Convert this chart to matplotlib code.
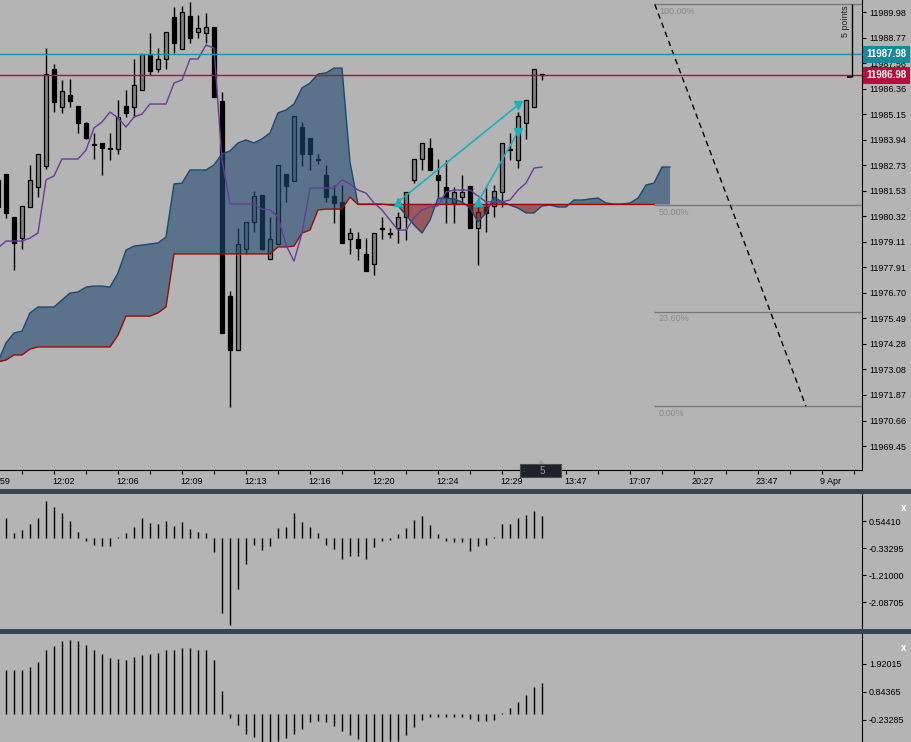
import matplotlib
matplotlib.use('Agg')
import matplotlib.pyplot as plt
from matplotlib.patches import Rectangle, Polygon
import numpy as np

plt.rcParams['font.family'] = ['Liberation Sans', 'DejaVu Sans']

BG = '#b4b4b4'
W, H = 911, 742

# --- candles (one per bar, bar index = position on the time axis) ---
opens = [11982.04, 11982.32, 11980.29, 11979.29, 11980.76, 11981.70, 11982.70, 11987.29, 11985.49, 11986.06,
         11985.54, 11984.73, 11983.74, 11983.79, 11983.55, 11983.50, 11985.54, 11985.49, 11986.29, 11987.95,
         11987.29, 11987.76, 11989.75, 11988.23, 11989.79, 11989.04, 11988.99, 11989.27, 11985.77, 11976.55,
         11973.99, 11978.77, 11980.05, 11981.33, 11978.30, 11979.01, 11982.32, 11981.99, 11984.54, 11984.02,
         11983.03, 11982.27, 11981.28, 11981.00, 11979.25, 11979.25, 11978.54, 11978.06, 11979.77, 11979.53,
         11979.77, 11980.29, 11982.04, 11983.03, 11983.55, 11982.27, 11981.70, 11980.95, 11981.23, 11981.75,
         11979.77, 11980.76, 11980.81, 11981.47, 11983.45, 11982.98, 11984.73, 11985.49, 11987.05]
highs = [11982.41, 11982.32, 11980.29, 11980.81, 11982.75, 11983.27, 11988.28, 11987.52, 11986.77, 11986.81,
         11985.54, 11984.78, 11984.26, 11983.79, 11984.26, 11985.82, 11986.29, 11987.76, 11988.00, 11988.99,
         11988.28, 11989.04, 11990.22, 11990.27, 11990.46, 11989.84, 11989.94, 11989.27, 11986.20, 11976.79,
         11979.77, 11980.05, 11981.52, 11981.33, 11980.29, 11982.75, 11982.32, 11985.06, 11984.78, 11984.02,
         11983.27, 11982.75, 11981.80, 11981.80, 11979.77, 11979.58, 11979.29, 11979.53, 11980.29, 11979.77,
         11980.52, 11981.47, 11983.03, 11983.79, 11984.02, 11983.03, 11982.98, 11981.70, 11982.27, 11981.75,
         11981.00, 11981.70, 11981.80, 11983.79, 11984.26, 11985.25, 11985.82, 11987.29, 11987.05]
lows = [11980.38, 11980.24, 11977.78, 11978.77, 11980.76, 11981.23, 11982.56, 11985.25, 11985.21, 11985.49,
        11984.26, 11983.98, 11983.03, 11982.27, 11982.98, 11983.27, 11985.02, 11985.02, 11986.29, 11987.00,
        11987.14, 11987.29, 11988.04, 11988.23, 11988.52, 11988.75, 11988.52, 11985.96, 11974.80, 11971.30,
        11973.99, 11978.54, 11979.58, 11978.72, 11978.30, 11979.01, 11981.00, 11981.99, 11982.70, 11982.51,
        11982.79, 11981.00, 11980.00, 11979.06, 11978.54, 11978.25, 11977.73, 11977.54, 11979.25, 11979.29,
        11979.06, 11979.20, 11981.89, 11982.51, 11982.51, 11981.23, 11980.00, 11980.00, 11980.95, 11979.77,
        11978.02, 11979.58, 11980.29, 11980.76, 11982.98, 11982.60, 11983.98, 11985.49, 11986.77]
closes = [11980.76, 11980.48, 11979.06, 11980.81, 11982.04, 11983.27, 11987.05, 11985.73, 11986.25, 11985.77,
          11984.73, 11984.02, 11983.69, 11983.55, 11983.50, 11985.02, 11985.21, 11986.53, 11988.00, 11987.19,
          11987.76, 11989.04, 11988.52, 11989.98, 11988.75, 11989.23, 11989.27, 11985.96, 11974.80, 11973.99,
          11979.01, 11980.05, 11981.28, 11978.77, 11979.25, 11982.75, 11981.75, 11985.06, 11983.27, 11983.27,
          11982.98, 11981.23, 11980.95, 11979.06, 11979.53, 11978.82, 11977.73, 11979.53, 11979.72, 11979.48,
          11980.29, 11981.47, 11983.03, 11983.79, 11982.51, 11982.04, 11981.23, 11981.47, 11981.47, 11979.77,
          11980.52, 11980.48, 11981.52, 11983.79, 11983.50, 11985.06, 11985.82, 11987.29, 11986.98]

# purple line (tenkan)
tenkan = [11978.82, 11979.15, 11979.15, 11979.15, 11979.29, 11979.53, 11982.04, 11982.23, 11983.03, 11983.03,
          11983.03, 11983.45, 11984.50, 11984.78, 11985.25, 11984.97, 11984.54, 11985.02, 11985.16, 11985.63,
          11985.63, 11985.63, 11986.62, 11986.77, 11987.76, 11987.76, 11988.42, 11988.28, 11982.98, 11980.90,
          11980.90, 11980.90, 11980.90, 11980.66, 11980.62, 11980.29, 11978.96, 11978.20, 11979.53, 11981.66,
          11981.66, 11981.66, 11981.66, 11982.04, 11981.85, 11981.56, 11981.42, 11980.95, 11980.62, 11980.14,
          11979.67, 11979.67, 11980.24, 11980.62, 11980.76, 11980.81, 11981.47, 11981.56, 11981.56, 11981.56,
          11981.28, 11981.00, 11981.00, 11981.00, 11981.09, 11981.56, 11981.89, 11982.60, 11982.65]

# cloud, drawn 16 bars past the last candle
span_a = [11973.43, 11974.33, 11974.80, 11974.89, 11975.75, 11976.03, 11976.03, 11976.03, 11976.36, 11976.69,
          11976.74, 11976.97, 11977.02, 11977.02, 11976.97, 11977.64, 11978.72, 11978.91, 11978.96, 11979.01,
          11979.06, 11979.34, 11981.85, 11981.89, 11982.51, 11982.51, 11982.51, 11982.75, 11983.27, 11983.41,
          11983.79, 11983.93, 11983.79, 11983.98, 11984.26, 11985.21, 11985.35, 11985.63, 11986.39, 11986.62,
          11987.05, 11987.10, 11987.33, 11987.33, 11982.89, 11980.90, 11980.90, 11980.90, 11980.90, 11980.85,
          11980.81, 11980.38, 11979.91, 11979.53, 11980.14, 11981.18, 11981.18, 11981.14, 11981.00, 11980.71,
          11980.05, 11980.48, 11981.23, 11981.00, 11980.85, 11980.71, 11980.48, 11980.48, 11980.81, 11980.85,
          11980.76, 11980.76, 11981.09, 11981.09, 11981.14, 11981.18, 11980.95, 11980.90, 11980.90, 11980.95,
          11981.18, 11981.80, 11981.89, 11982.65, 11982.65]
span_b = [11973.43, 11973.52, 11973.76, 11973.76, 11974.04] + [11974.14] * 10 + [11974.70] + [11975.60] * 4 + \
         [11975.75, 11976.03] + [11978.54] * 13 + [11978.87, 11978.87, 11978.91, 11979.53, 11979.67, 11980.62,
         11980.66, 11980.66, 11980.66, 11981.23] + [11980.88] * 40

# oscillators below (bars 1..68)
osc1 = [0.63, 0.17, 0.25, 0.44, 0.65, 1.20, 1.01, 0.81, 0.55, 0.19,
        -0.11, -0.22, -0.26, -0.26, 0.03, 0.16, 0.36, 0.63, 0.49, 0.44,
        0.55, 0.39, 0.52, 0.27, 0.19, 0.16, -0.45, -2.46, -2.84, -1.68,
        -0.86, -0.24, -0.40, -0.26, 0.32, 0.34, 0.81, 0.52, 0.36, 0.16,
        -0.24, -0.37, -0.69, -0.60, -0.60, -0.70, -0.29, -0.11, -0.08, 0.11,
        0.32, 0.57, 0.71, 0.41, 0.12, -0.11, -0.13, -0.15, -0.42, -0.26,
        -0.24, 0.02, 0.44, 0.44, 0.65, 0.74, 0.87, 0.71]
osc2 = [1.70, 1.67, 1.67, 1.79, 2.01, 2.44, 2.63, 2.82, 2.85, 2.82,
        2.65, 2.47, 2.31, 2.15, 2.12, 2.09, 2.18, 2.28, 2.31, 2.35,
        2.44, 2.47, 2.54, 2.53, 2.47, 2.44, 2.09, 0.90, -0.17, -0.42,
        -0.77, -0.90, -1.06, -1.09, -1.03, -0.94, -0.77, -0.58, -0.32, -0.26,
        -0.32, -0.45, -0.64, -0.81, -0.96, -1.12, -1.15, -1.12, -1.03, -1.03,
        -0.81, -0.51, -0.22, -0.13, -0.13, -0.13, -0.13, -0.13, -0.19, -0.26,
        -0.26, -0.23, 0.02, 0.22, 0.45, 0.71, 1.03, 1.19]

ask_price = 11987.98
bid_price = 11986.98

# arrowed lines: (start bar, start price, end bar, end price)
arrow_lines = [(50, 11981.00, 65, 11985.58), (60, 11981.00, 65, 11984.31)]

# fibonacci retracement
fib_ratios = [0.0, 0.236, 0.5, 1.0]
fib_names = ['0.00%', '23.60%', '50.00%', '100.00%']
fib_start, fib_end = 82, 101
fib_high, fib_low = 11990.34, 11971.33

# price ruler
ruler_bar, ruler_top, ruler_bottom = 106.75, 11990.36, 11986.93

price_ticks = [11989.98, 11988.77, 11987.56, 11986.36, 11985.15, 11983.94, 11982.73, 11981.53, 11980.32,
               11979.11, 11977.91, 11976.70, 11975.49, 11974.28, 11973.08, 11971.87, 11970.66, 11969.45]
time_bars = [-1, 7, 15, 23, 31, 39, 47, 55, 63, 71, 79, 87, 95, 103]
time_labels = ['11:59', '12:02', '12:06', '12:09', '12:13', '12:16', '12:20', '12:24', '12:29',
               '13:47', '17:07', '20:27', '23:47', '9 Apr']
osc1_ticks = [0.54410, -0.33295, -1.21000, -2.08705]
osc2_ticks = [1.92015, 0.84365, -0.23285]

opens, highs, lows, closes = map(np.array, (opens, highs, lows, closes))
span_a, span_b = np.array(span_a), np.array(span_b)
bars = np.arange(len(opens))
cloud_x = np.arange(len(span_a))
osc_x = np.arange(1, len(osc1) + 1)
XMIN, XMAX = 0.25, 108


def fig_box(x0, y0, x1, y1):
    """pixel box -> figure fraction rect"""
    return [x0 / W, 1 - y1 / H, (x1 - x0) / W, (y1 - y0) / H]


fig = plt.figure(figsize=(W / 100, H / 100), dpi=100, facecolor=BG)
ax = fig.add_axes(fig_box(0, 0, 862, 470))
ax1 = fig.add_axes(fig_box(0, 494, 862, 629), sharex=ax)
ax2 = fig.add_axes(fig_box(0, 634, 862, 742), sharex=ax)

for a in (ax, ax1, ax2):
    a.set_facecolor(BG)
    for s in ('top', 'left'):
        a.spines[s].set_visible(False)
    a.spines['right'].set_color('black')
    a.yaxis.tick_right()
    a.tick_params(axis='y', direction='out', length=3, width=0.8, pad=2, labelsize=6.5, colors='black')
ax1.spines['bottom'].set_visible(False)
ax2.spines['bottom'].set_visible(False)

# candles
up = closes >= opens
ax.vlines(bars, lows, highs, color='black', lw=1, zorder=2)
ax.bar(bars, np.abs(closes - opens), bottom=np.minimum(opens, closes), width=0.62,
       color=['#808080' if u else 'black' for u in up], edgecolor='black', linewidth=0.9, zorder=3)

# ichimoku cloud
ax.fill_between(cloud_x, span_a, span_b, where=span_a >= span_b, interpolate=True,
                color='#1e496e', alpha=0.6, lw=0, zorder=4)
ax.fill_between(cloud_x, span_a, span_b, where=span_a < span_b, interpolate=True,
                color='#851e1e', alpha=0.6, lw=0, zorder=4)
ax.plot(cloud_x, span_a, color='#1b4a70', lw=1, zorder=5)
ax.plot(cloud_x[:83], span_b[:83], color='#9b0a0a', lw=1, zorder=5)
ax.plot(bars, tenkan, color='#6a3a9a', lw=1, zorder=6)

# bid / ask
ax.axhline(ask_price, color='#1596a8', lw=1, zorder=7)
ax.axhline(bid_price, color='#a31744', lw=1, zorder=7)
for price, col in [(ask_price, '#17899c'), (bid_price, '#b5103c')]:
    ax.annotate(f'{price:.2f}', xy=(1, price), xycoords=('axes fraction', 'data'), xytext=(3, 0),
                textcoords='offset points', ha='left', va='center', fontsize=7, fontweight='bold',
                color='white', bbox=dict(boxstyle='square,pad=0.35', fc=col, ec='none'),
                zorder=10, annotation_clip=False)

# arrowed lines
for b0, p0, b1, p1 in arrow_lines:
    ax.plot([b0, b1], [p0, p1], color='#17b2c0', lw=1.2, zorder=8)
    ax.plot(b0, p0, marker='^', ms=6, color='#17b2c0', zorder=8)
    ax.plot(b1, p1, marker='v', ms=6, color='#17b2c0', zorder=8)

# fibo levels
for r, name in zip(fib_ratios, fib_names):
    lvl = fib_low + r * (fib_high - fib_low)
    ax.hlines(lvl, fib_start, XMAX, color='#7a7a7a', lw=1, zorder=3)
    ax.annotate(name, (fib_start, lvl), xytext=(3.5, -2), textcoords='offset points',
                ha='left', va='top', fontsize=6.5, color='#8a8a8a')
ax.plot([fib_start + 0.1, fib_end], [fib_high, fib_low], color='black', lw=1, ls=(0, (4, 3)), zorder=3)

# ruler
ax.vlines(ruler_bar, ruler_bottom, ruler_top, color='black', lw=1, zorder=7)
ax.hlines(ruler_bottom, ruler_bar - 0.65, ruler_bar, color='black', lw=1.2, zorder=7)
ax.text(ruler_bar - 0.8, 11989.55, '5 points', rotation=90, ha='center', va='center',
        fontsize=6.5, color='#222222', zorder=7)

# time axis (ticks first: set_xticks widens the view, limits are set after)
ax.set_xticks(np.arange(-1, 109, 4))
ax.tick_params(axis='x', direction='out', length=3, width=0.8, labelbottom=False, colors='black')
for b, lab in zip(time_bars, time_labels):
    ax.annotate(lab, xy=(b, 0), xycoords=('data', 'axes fraction'), xytext=(-1.5, -8),
                textcoords='offset points', ha='left', va='center', fontsize=6.5,
                annotation_clip=False)

ax.set_yticks(price_ticks)
ax.set_yticklabels([f'{v:.2f}' for v in price_ticks])
ax.set_xlim(XMIN, XMAX)
ax.set_ylim(11968.32, 11990.55)

# oscillators
ax1.vlines(osc_x, 0, osc1, color='black', lw=1)
ax1.set_yticks(osc1_ticks)
ax1.set_yticklabels([f'{v:.5f}' for v in osc1_ticks])
ax1.set_ylim(-2.9641, 1.4212)
ax2.vlines(osc_x, 0, osc2, color='black', lw=1)
ax2.set_yticks(osc2_ticks)
ax2.set_yticklabels([f'{v:.5f}' for v in osc2_ticks])
ax2.set_ylim(-1.079, 3.073)
for a in (ax1, ax2):
    a.tick_params(axis='x', bottom=False, labelbottom=False)
ax.set_xlim(XMIN, XMAX)

# window chrome
for y0 in (489, 629):
    fig.add_artist(Rectangle((0, 1 - (y0 + 5) / H), 1, 5 / H, transform=fig.transFigure,
                             fc='#374650', ec='none'))
fig.add_artist(Rectangle((520 / W, 1 - 477 / H), 41 / W, 13 / H, transform=fig.transFigure,
                         fc='#1e2226', ec='#4a4a4a', lw=0.8, zorder=5))
fig.add_artist(Polygon([(538 / W, 1 - 464 / H), (544 / W, 1 - 464 / H), (541 / W, 1 - 460 / H)],
                       transform=fig.transFigure, fc='#9a9a9a', ec='none', zorder=5))
fig.text(542 / W, 1 - 470.5 / H, '5', color='#a0a0a0', fontsize=7, ha='center', va='center', zorder=6)
fig.text(523 / W, 1 - 470.5 / H, ':', color='#808080', fontsize=6, ha='center', va='center', zorder=6)
for y in (508, 648):
    fig.text(904 / W, 1 - y / H, 'x', color='white', fontsize=7, fontweight='bold',
             ha='center', va='center')

fig.savefig('out.png', dpi=100, facecolor=BG)
